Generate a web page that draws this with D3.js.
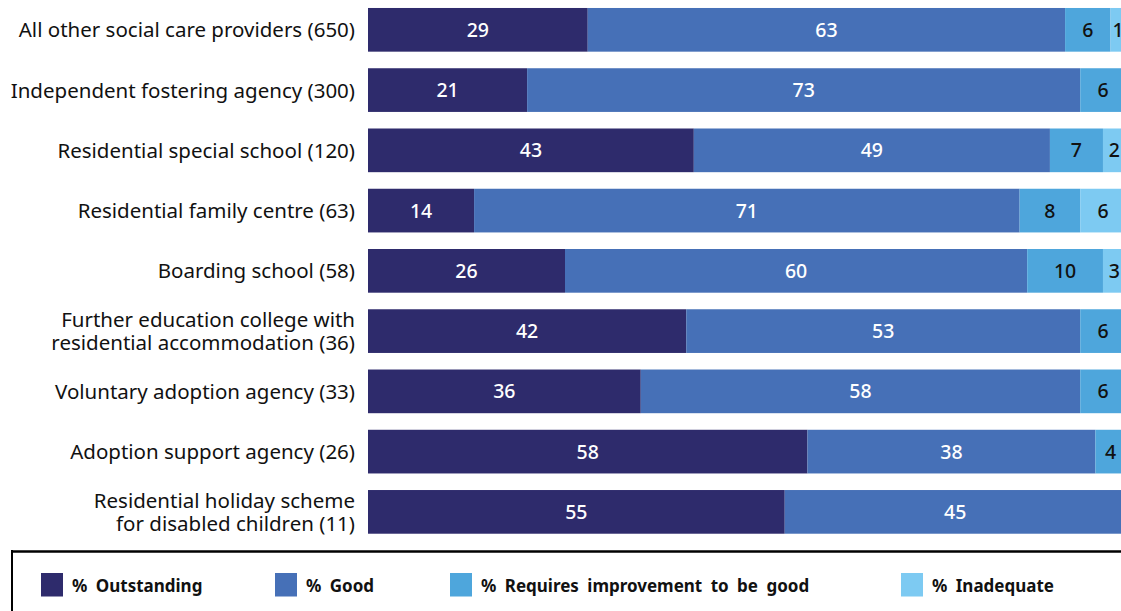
<!DOCTYPE html>
<html><head><meta charset="utf-8">
<script src="https://cdn.jsdelivr.net/npm/d3@7"></script>
<style>body{margin:0;background:#fff}svg{display:block}</style>
</head><body>
<svg id="c" width="1121" height="611"></svg>
<script>
const categories = [
  ["All other social care providers (650)"],
  ["Independent fostering agency (300)"],
  ["Residential special school (120)"],
  ["Residential family centre (63)"],
  ["Boarding school (58)"],
  ["Further education college with","residential accommodation (36)"],
  ["Voluntary adoption agency (33)"],
  ["Adoption support agency (26)"],
  ["Residential holiday scheme","for disabled children (11)"]
];
// bar lengths (percent, as drawn in the reference)
const outstanding = [29,21,43,14,26,42,36,58,55];
const good        = [63,73,47,72,61,52,58,38,45];
const requiresImp = [6,6,7,8,10,6,6,4,0];
const inadequate  = [2,0,3,6,3,0,0,0,0];
// printed labels
const outstandingLabels = [29,21,43,14,26,42,36,58,55];
const goodLabels        = [63,73,49,71,60,53,58,38,45];
const requiresImpLabels = [6,6,7,8,10,6,6,4,null];
const inadequateLabels  = [1,null,2,6,3,null,null,null,null];
const seriesNames = ["% Outstanding","% Good","% Requires improvement to be good","% Inadequate"];
const colors = ["#2e2b6c","#4670b7","#4ea6dc","#7dcaf2"];
const textColors = ["#fff","#fff","#111","#111"];

const FONT = "'Noto Sans', sans-serif";
const svg = d3.select("#c");
const x = d3.scaleLinear().domain([0,100]).range([368,1125.7]);
const keys = categories.map((c,i)=>i);
const y = d3.scaleBand().domain(keys).range([-0.3, 542]).paddingInner(0.275).paddingOuter(0.1375);

const vals = [outstanding,good,requiresImp,inadequate];
const labs = [outstandingLabels,goodLabels,requiresImpLabels,inadequateLabels];
const rows = keys.map(i=>({i, v:vals.map(a=>a[i])}));
const stack = d3.stack().keys([0,1,2,3]).value((d,k)=>d.v[k]);
const series = stack(rows);

series.forEach((s,k)=>{
  const g = svg.append("g");
  const segs = s.filter(d=>d[1]-d[0]>0);
  g.selectAll("rect").data(segs).join("rect")
    .attr("x",d=>x(d[0])).attr("width",d=>x(d[1])-x(d[0]))
    .attr("y",d=>y(d.data.i)).attr("height",y.bandwidth())
    .attr("fill",colors[k]);
  g.selectAll("text").data(segs.filter(d=>labs[k][d.data.i]!=null)).join("text")
    .attr("x",d=>(x(d[0])+x(d[1]))/2)
    .attr("y",d=>y(d.data.i)+y.bandwidth()/2+7)
    .attr("text-anchor","middle")
    .attr("font-family",FONT).attr("font-size",19.5).attr("font-weight",500)
    .attr("fill",textColors[k])
    .text(d=>labs[k][d.data.i]);
});

const lab = svg.append("g");
categories.forEach((lines,i)=>{
  const cy = y(i)+y.bandwidth()/2;
  const t = lab.append("text").attr("text-anchor","end")
    .attr("font-family",FONT).attr("font-size",20.5).attr("fill","#111");
  lines.forEach((l,j)=>{
    t.append("tspan").attr("x",355)
      .attr("y", cy + 7.5 + (j-(lines.length-1)/2)*22.5)
      .text(l);
  });
});

// legend box
svg.append("line").attr("x1",11).attr("x2",1121).attr("y1",551.5).attr("y2",551.5).attr("stroke","#000").attr("stroke-width",2.5);
svg.append("line").attr("x1",12).attr("x2",12).attr("y1",550).attr("y2",611).attr("stroke","#000").attr("stroke-width",2);
const legX = [41,275,450,901];
const leg = svg.append("g");
seriesNames.forEach((n,k)=>{
  leg.append("rect").attr("x",legX[k]).attr("y",573).attr("width",22).attr("height",23.5).attr("fill",colors[k]);
  leg.append("text").attr("x",legX[k]+31).attr("y",592)
    .attr("font-family",FONT).attr("font-size",17).attr("font-weight",700)
    .attr("word-spacing",4).attr("fill","#111").text(n);
});
</script>
</body></html>
